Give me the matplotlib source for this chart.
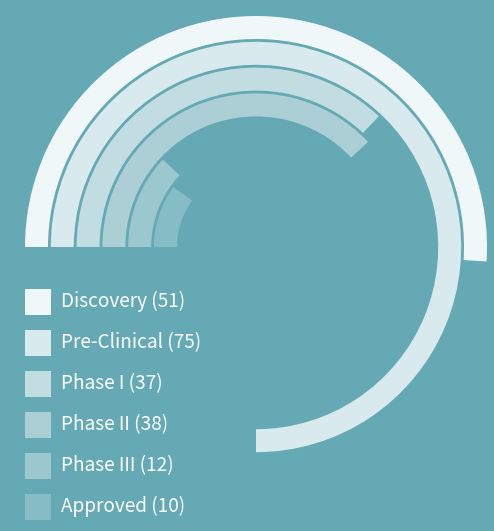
import numpy as np
import matplotlib
matplotlib.use("Agg")
import matplotlib.pyplot as plt
from matplotlib.patches import Rectangle

# data
stages = ["Discovery", "Pre-Clinical", "Phase I", "Phase II", "Phase III", "Approved"]
counts = [51, 75, 37, 38, 12, 10]
colors = ["#eff7f9", "#d8eaed", "#c2dde2", "#abcfd5", "#9bc7ce", "#86bcc5"]
SCALE_MAX = 100  # full circle

BG = "#65a9b5"
W, H = 494, 531
DPI = 100

fig = plt.figure(figsize=(W / DPI, H / DPI), dpi=DPI, facecolor=BG)

# polar axes, centre at pixel (256, 247) from top
CX, CY = 256, 247
R = 245
ax = fig.add_axes([(CX - R) / W, (H - CY - R) / H, 2 * R / W, 2 * R / H], projection="polar")
ax.set_facecolor("none")
ax.set_theta_zero_location("W")
ax.set_theta_direction(-1)
ax.set_ylim(0, R)
ax.set_axis_off()

ring_w = 23
outer = 231
pitch = 25.8
for i, (n, c) in enumerate(zip(counts, colors)):
    r_out = outer - i * pitch
    span = np.deg2rad(n / SCALE_MAX * 360)
    ax.bar(0, ring_w, width=span, bottom=r_out - ring_w, color=c,
           align="edge", linewidth=0)

# legend in pixel coords
lax = fig.add_axes([0, 0, 1, 1])
lax.set_xlim(0, W)
lax.set_ylim(H, 0)
lax.set_axis_off()
lax.patch.set_visible(False)
top0 = 289
step = 41
sq = 26
for i, (s, n, c) in enumerate(zip(stages, counts, colors)):
    y = top0 + i * step
    lax.add_patch(Rectangle((25, y), sq, sq, facecolor=c, edgecolor="none"))
    lax.text(60.5, y + sq / 2 - 0.5, f"{s} ({n})", color="white", fontsize=13.7,
             family=["Noto Sans CJK SC", "DejaVu Sans"], va="center", ha="left")

fig.savefig("out.png", dpi=DPI, facecolor=BG)
